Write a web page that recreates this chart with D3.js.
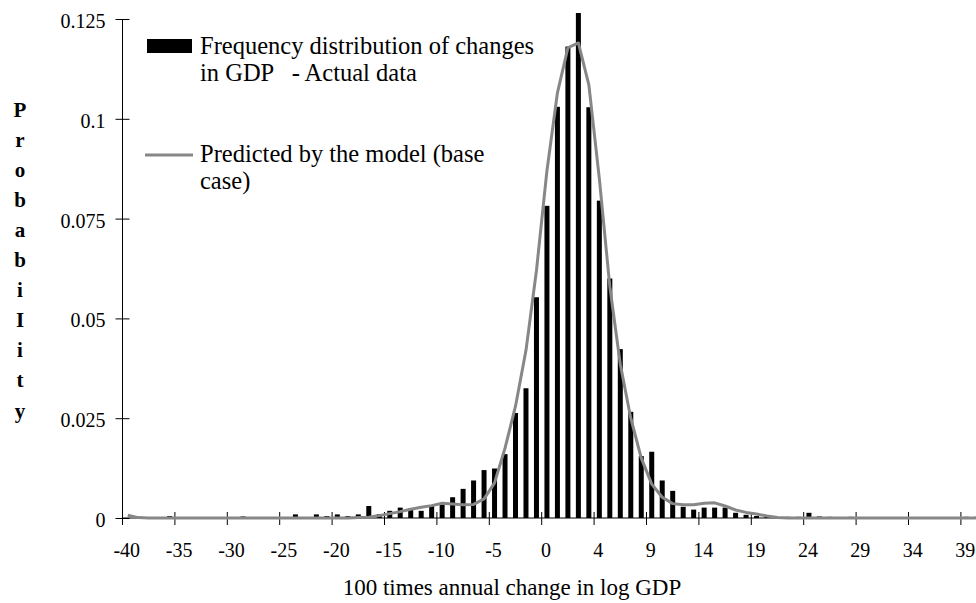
<!DOCTYPE html>
<html>
<head>
<meta charset="utf-8">
<script src="https://cdn.jsdelivr.net/npm/d3@7"></script>
<style>
  body { margin: 0; background: #fff; }
  svg text { font-family: 'Liberation Serif', 'Times New Roman', serif; fill: #000; }
</style>
</head>
<body>
<svg class="main" width="976" height="603"></svg>
<script>
// categories (two "0" bins, as in the original sheet)
var CATEGORIES = ["-40","-39","-38","-37","-36","-35","-34","-33","-32","-31",
  "-30","-29","-28","-27","-26","-25","-24","-23","-22","-21",
  "-20","-19","-18","-17","-16","-15","-14","-13","-12","-11",
  "-10","-9","-8","-7","-6","-5","-4","-3","-2","-1",
  "0","0","1","2","3","4","5","6","7","8",
  "9","10","11","12","13","14","15","16","17","18",
  "19","20","21","22","23","24","25","26","27","28",
  "29","30","31","32","33","34","35","36","37","38",
  "39","40"];

// frequency distribution - actual data
var ACTUAL = [0, 0, 0, 0, 0.0005, 0, 0, 0, 0, 0,
  0, 0.0004, 0, 0, 0, 0, 0.0009, 0, 0.0009, 0.0005,
  0.0009, 0.0005, 0.0009, 0.0030, 0.0010, 0.0018, 0.0026, 0.0024, 0.0018, 0.0030,
  0.0036, 0.0052, 0.0073, 0.0094, 0.0120, 0.0124, 0.0160, 0.0263, 0.0325, 0.0553,
  0.0782, 0.1030, 0.1181, 0.1265, 0.1029, 0.0795, 0.0600, 0.0423, 0.0266, 0.0155,
  0.0166, 0.0094, 0.0068, 0.0028, 0.0021, 0.0026, 0.0026, 0.0026, 0.0013, 0.0008,
  0.0005, 0.0003, 0, 0.0003, 0.0003, 0.0013, 0.0004, 0.0003, 0, 0.0003,
  0, 0, 0, 0, 0, 0, 0, 0, 0, 0,
  0.0003, 0.0003];

// predicted by the model (base case)
var PREDICTED = [0.0007, 0.0001, 0, 0, 0, 0, 0, 0, 0, 0,
  0, 0, 0, 0, 0, 0, 0, 0, 0, 0,
  0, 0, 0.0001, 0.0002, 0.0006, 0.0011, 0.0016, 0.0022, 0.0027, 0.0031,
  0.0037, 0.0035, 0.0033, 0.0034, 0.0048, 0.0088, 0.0175, 0.0280, 0.0420, 0.0620,
  0.0870, 0.1065, 0.1178, 0.1190, 0.1085, 0.0850, 0.0580, 0.0385, 0.0250, 0.0150,
  0.0085, 0.0052, 0.0036, 0.0033, 0.0033, 0.0037, 0.0038, 0.0030, 0.0020, 0.0014,
  0.0010, 0.0005, 0.0001, 0, 0, 0, 0, 0, 0, 0,
  0, 0, 0, 0, 0, 0, 0, 0, 0, 0,
  0, 0];

var Y_TICKS = [0, 0.025, 0.05, 0.075, 0.1, 0.125];
var Y_TITLE = "ProbabiIity";
var X_TITLE = "100 times annual change in log GDP";
var LEGEND_BARS = ["Frequency distribution of changes", "in GDP   - Actual data"];
var LEGEND_LINE = ["Predicted by the model (base", "case)"];

var LINE_COLOR = "#878787";

function main() {
  var svg = d3.select("svg.main");
  var left = 122.5, bottom = 518, top = 19, step = 10.48;

  var x = d3.scaleBand()
    .domain(d3.range(CATEGORIES.length))
    .range([left, left + CATEGORIES.length * step])
    .padding(0);
  var y = d3.scaleLinear().domain([0, 0.125]).range([bottom, top]);

  // y axis
  var yAxis = svg.append("g")
    .attr("transform", "translate(" + left + ",0)")
    .call(d3.axisLeft(y).tickValues(Y_TICKS).tickSize(7).tickPadding(10)
      .tickFormat(function(d) { return d === 0 ? "0" : String(+d.toFixed(3)); }));
  yAxis.select(".domain").remove();
  yAxis.selectAll(".tick line").attr("x1", 7).attr("stroke", "#000");
  yAxis.selectAll(".tick text").attr("font-size", 20).attr("dy", "0.42em")
    .style("font-family", "'Liberation Serif', serif");
  svg.append("line")
    .attr("x1", left).attr("x2", left).attr("y1", top).attr("y2", bottom)
    .attr("stroke", "#000");

  // x axis: ticks between categories, labels on every 5th category
  var xAxis = svg.append("g")
    .attr("transform", "translate(0," + bottom + ")")
    .call(d3.axisBottom(x)
      .tickValues(d3.range(0, CATEGORIES.length).filter(function(i) { return i % 5 == 0; }))
      .tickFormat(function(i) { return CATEGORIES[i]; })
      .tickSize(7).tickPadding(18));
  xAxis.select(".domain").remove();
  xAxis.selectAll(".tick line")
    .attr("x1", -x.bandwidth() / 2).attr("x2", -x.bandwidth() / 2)
    .attr("y1", -6).attr("y2", 7).attr("stroke", "#000");
  xAxis.selectAll(".tick text").attr("font-size", 20).attr("dx", -1)
    .style("font-family", "'Liberation Serif', serif");
  svg.append("line")
    .attr("x1", left).attr("x2", 976).attr("y1", bottom).attr("y2", bottom)
    .attr("stroke", "#000");

  // bars
  var barW = 5;
  svg.append("g").selectAll("rect")
    .data(ACTUAL)
    .enter().append("rect")
    .attr("x", function(d, i) { return x(i) + x.bandwidth() / 2 - barW / 2; })
    .attr("y", function(d) { return y(d); })
    .attr("width", barW)
    .attr("height", function(d) { return bottom - y(d); })
    .attr("fill", "#000");

  // predicted line
  var line = d3.line()
    .x(function(d, i) { return x(i) + x.bandwidth() / 2; })
    .y(function(d) { return y(d); });
  svg.append("path")
    .datum(PREDICTED)
    .attr("d", line)
    .attr("fill", "none")
    .attr("stroke", LINE_COLOR)
    .attr("stroke-width", 3)
    .attr("stroke-linejoin", "round");

  // y title, one letter per line
  svg.append("g").selectAll("text")
    .data(Y_TITLE.split(""))
    .enter().append("text")
    .attr("x", 20)
    .attr("y", function(d, i) { return 116.5 + i * 30.1; })
    .attr("text-anchor", "middle")
    .attr("font-size", 21)
    .attr("font-weight", "bold")
    .text(function(d) { return d; });

  // x title
  svg.append("text")
    .attr("x", 512).attr("y", 595)
    .attr("text-anchor", "middle")
    .attr("font-size", 23)
    .text(X_TITLE);

  // legend
  var legend = svg.append("g");
  legend.append("rect")
    .attr("x", 147).attr("y", 39).attr("width", 45).attr("height", 14)
    .attr("fill", "#000");
  legend.selectAll("text.bars")
    .data(LEGEND_BARS)
    .enter().append("text")
    .attr("class", "bars")
    .attr("x", 200)
    .attr("y", function(d, i) { return 54 + i * 27; })
    .attr("font-size", 24.5)
    .style("white-space", "pre")
    .text(function(d) { return d; });
  legend.append("line")
    .attr("x1", 145).attr("x2", 193).attr("y1", 155).attr("y2", 155)
    .attr("stroke", LINE_COLOR).attr("stroke-width", 3);
  legend.selectAll("text.line")
    .data(LEGEND_LINE)
    .enter().append("text")
    .attr("class", "line")
    .attr("x", 200)
    .attr("y", function(d, i) { return 162 + i * 27; })
    .attr("font-size", 24.5)
    .text(function(d) { return d; });
}

main();
</script>
</body>
</html>
